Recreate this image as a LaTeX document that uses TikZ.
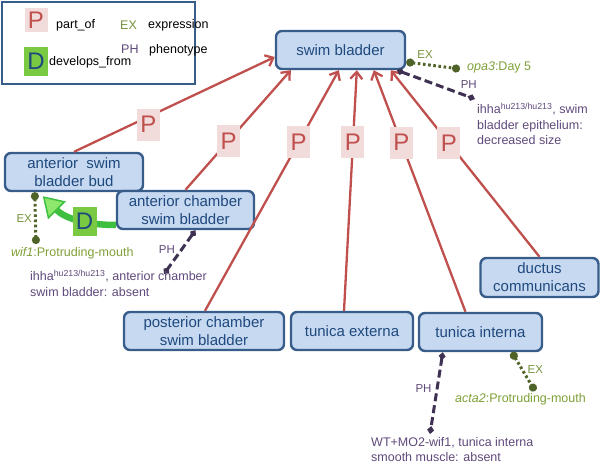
\documentclass[tikz,border=0pt]{standalone}
\usepackage{fontspec}
\setmainfont{Liberation Sans}
\usetikzlibrary{arrows.meta}

\definecolor{boxfill}{HTML}{C6D9F1}
\definecolor{boxline}{HTML}{385D8A}
\definecolor{boxtext}{HTML}{1F497D}
\definecolor{partred}{HTML}{C0504D}
\definecolor{partfill}{HTML}{F2DCDB}
\definecolor{exdark}{HTML}{4F6228}
\definecolor{exgreen}{HTML}{76923C}
\definecolor{extxt}{HTML}{7FA037}
\definecolor{phdark}{HTML}{3F3151}
\definecolor{phtxt}{HTML}{5F497A}
\definecolor{devgreen}{HTML}{3FBF3F}
\definecolor{devlight}{HTML}{8EE86E}
\definecolor{dfill}{HTML}{7AC943}

\tikzset{
  anat/.style={draw=boxline, line width=2.4pt, fill=boxfill, rounded corners=6pt,
    text=boxtext, font=\fontsize{15}{18}\selectfont, align=center,
    minimum height=38pt, inner sep=0pt},
  pbox/.style={fill=partfill, text=partred, font=\fontsize{24}{24}\selectfont,
    minimum width=23pt, minimum height=32pt, inner sep=0pt},
  dbox/.style={fill=dfill, text=boxtext, font=\fontsize{24}{24}\selectfont,
    minimum width=24pt, minimum height=29pt, inner sep=0pt},
  partof/.style={draw=partred, line width=2.3pt,
    -{Straight Barb[length=7pt,width=12pt]}},
  exline/.style={draw=exdark, line width=3pt, dash pattern=on 2.6pt off 2.6pt,
    {Circle[length=8pt,width=8pt]}-{Circle[length=8pt,width=8pt]}},
  phline/.style={draw=phdark, line width=3pt, dash pattern=on 8pt off 4pt,
    {Diamond[length=8pt,width=7pt]}-{Diamond[length=8pt,width=7pt]}},
  exlab/.style={text=exgreen, font=\fontsize{11.5}{12}\selectfont, inner sep=1pt},
  phlab/.style={text=phtxt, font=\fontsize{11.5}{12}\selectfont, inner sep=1pt},
  extext/.style={text=extxt, font=\fontsize{12.5}{15.5}\selectfont, inner sep=0pt},
  phtext/.style={text=phtxt, font=\fontsize{12.5}{15.5}\selectfont, inner sep=0pt, align=left},
  legtext/.style={font=\fontsize{12.5}{15}\selectfont, inner sep=0pt, anchor=west},
  devfrom/.style={draw=devgreen, line width=6.5pt,
    -{Triangle[length=20pt,width=25pt,fill=devlight,line width=1.5pt]}}
}

\begin{document}
\begin{tikzpicture}[x=1pt,y=-1pt]
\useasboundingbox (0,0) rectangle (600,466);

% legend
\draw[draw=boxline, line width=2.4pt, fill=white] (2,2) rectangle (195,84);
\node[pbox, minimum height=24pt] at (36,20) (legP) {P};
\node[legtext] at (56,25) (legpart) {part\_of};
\node[dbox] at (36,61) (legD) {D};
\node[legtext] at (49,62) (legdev) {develops\_from};
\node[legtext, text=exgreen] at (120,25) (legEX) {EX};
\node[legtext] at (148,25) (legexpr) {expression};
\node[legtext, text=phtxt] at (121,49) (legPH) {PH};
\node[legtext] at (149,50) (legphen) {phenotype};

% anatomy terms
\node[anat, minimum width=129pt] at (340.5,50) (sb) {swim bladder};
\node[anat, minimum width=138pt] at (74,172) (bud) {anterior~ swim\\bladder bud};
\node[anat, minimum width=137pt] at (185.5,210) (ac) {anterior chamber\\swim bladder};
\node[anat, minimum width=160pt] at (204,331) (pc) {posterior chamber\\swim bladder};
\node[anat, minimum width=122pt] at (352,331) (te) {tunica externa};
\node[anat, minimum width=123pt] at (480.5,332) (ti) {tunica interna};
\node[anat, minimum width=118pt, minimum height=39pt] at (539.5,277.5) (dc) {ductus\\communicans};

% part_of
\draw[partof] (bud.north) -- node[pbox, pos=.37, yshift=-8pt] (p1) {P} ([yshift=-7pt]sb.west);
\draw[partof] (ac.north) -- node[pbox, pos=.41] (p2) {P} ([xshift=16pt]sb.south west);
\draw[partof] ([xshift=1pt]pc.north) -- node[pbox, pos=.70] (p3) {P} ([xshift=64pt]sb.south west);
\draw[partof] ([xshift=-8pt]te.north) -- node[pbox, pos=.70] (p4) {P} ([xshift=82pt]sb.south west);
\draw[partof] ([xshift=-15pt]ti.north) -- node[pbox, pos=.70] (p5) {P} ([xshift=99pt]sb.south west);
\draw[partof] (dc.north) -- node[pbox, pos=.61] (p6) {P} ([xshift=116pt]sb.south west);

% develops_from
\draw[devfrom] ([yshift=-15pt]ac.west) to[out=180, in=-45]
  node[dbox, pos=.38] (d1) {D} ([xshift=39pt,yshift=-4pt]bud.south west);

% expression and phenotype
\coordinate (exsb) at (460,69);
\draw[exline] ([yshift=-12pt]sb.east) -- node[exlab, above=3pt, pos=.35] {EX} (exsb);
\node[extext, anchor=west] at (467,67) (opa) {\textit{opa3}:Day 5};

\coordinate (phsb) at (475,99);
\draw[phline] ([xshift=122pt]sb.south west) -- node[phlab, above=6pt, pos=.92] {PH} (phsb);
\node[phtext, anchor=north west] at (477,103) (ihhasb) {ihha\textsuperscript{hu213/hu213}, swim\\bladder epithelium:\\decreased size};

\coordinate (exbud) at (36,244);
\draw[exline] ([xshift=31pt]bud.south west) -- node[exlab, left=1pt] {EX} (exbud);
\node[extext, anchor=west] at (11,253) (wif) {\textit{wif1}:Protruding-mouth};

\coordinate (phac) at (164,274);
\draw[phline] ([xshift=10pt]ac.south) -- node[phlab, left=4pt, pos=.45] {PH} (phac);
\node[phtext, anchor=north west] at (30,270) (ihhaac) {ihha\textsuperscript{hu213/hu213}, anterior chamber\\swim bladder: absent};

\coordinate (phti) at (430,434);
\draw[phline] ([xshift=25pt]ti.south west) -- node[phlab, left=3pt, pos=.45] {PH} (phti);
\node[phtext, anchor=north west] at (371,437) (wtti) {WT+MO2-wif1, tunica interna\\smooth muscle: absent};

\coordinate (exti) at (535,391);
\draw[exline] ([xshift=94pt]ti.south west) -- node[exlab, right=3pt, pos=.45] {EX} (exti);
\node[extext, anchor=west] at (455,399) (acta) {\textit{acta2}:Protruding-mouth};
\end{tikzpicture}
\end{document}
